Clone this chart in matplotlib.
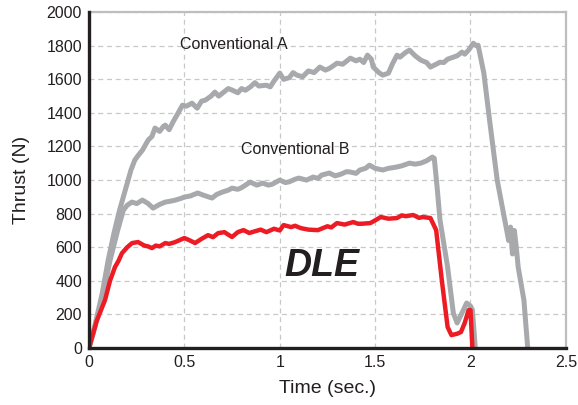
import matplotlib
matplotlib.use("Agg")
from matplotlib import pyplot as plt

# Conventional A thrust curve
conv_a_t = [0.0, 0.03, 0.07, 0.10, 0.13, 0.16, 0.18, 0.205, 0.22, 0.24,
            0.26, 0.28, 0.31, 0.33, 0.346, 0.37, 0.39, 0.40, 0.42, 0.44,
            0.467, 0.49, 0.51, 0.54, 0.567, 0.59, 0.61, 0.64, 0.66, 0.68,
            0.70, 0.73, 0.75, 0.78, 0.80, 0.82, 0.845, 0.87, 0.89, 0.93,
            0.95, 0.97, 1.0, 1.02, 1.05, 1.07, 1.09, 1.12, 1.15, 1.18,
            1.21, 1.24, 1.26, 1.28, 1.30, 1.33, 1.37, 1.40, 1.42, 1.44,
            1.46, 1.48, 1.49, 1.52, 1.54, 1.57, 1.59, 1.615, 1.63, 1.66,
            1.68, 1.71, 1.74, 1.77, 1.79, 1.82, 1.84, 1.86, 1.88, 1.91,
            1.93, 1.955, 1.97, 1.99, 2.015, 2.03, 2.04, 2.07, 2.10, 2.14,
            2.16, 2.18, 2.19, 2.20, 2.21, 2.22, 2.23, 2.24, 2.25, 2.28, 2.30]
conv_a_f = [0, 130, 330, 520, 680, 820, 900, 1000, 1060, 1119,
            1150, 1178, 1238, 1260, 1310, 1290, 1320, 1327, 1300, 1345,
            1399, 1446, 1440, 1458, 1428, 1470, 1476, 1500, 1524, 1500,
            1518, 1545, 1536, 1520, 1545, 1535, 1554, 1580, 1560, 1565,
            1555, 1590, 1637, 1600, 1610, 1640, 1625, 1615, 1650, 1640,
            1673, 1655, 1665, 1680, 1696, 1690, 1726, 1710, 1720, 1700,
            1744, 1720, 1673, 1640, 1625, 1637, 1690, 1744, 1732, 1760,
            1774, 1740, 1714, 1700, 1673, 1690, 1702, 1700, 1720, 1732,
            1740, 1762, 1750, 1774, 1815, 1800, 1803, 1637, 1357, 1000,
            880, 760, 700, 640, 720, 560, 700, 600, 482, 286, 0]

# Conventional B thrust curve
conv_b_t = [0.0, 0.03, 0.07, 0.11, 0.15, 0.18, 0.20, 0.225, 0.25, 0.28,
            0.31, 0.336, 0.37, 0.40, 0.43, 0.45, 0.48, 0.50, 0.53, 0.57,
            0.60, 0.645, 0.67, 0.70, 0.73, 0.75, 0.78, 0.80, 0.845, 0.88,
            0.91, 0.94, 0.96, 1.0, 1.03, 1.05, 1.08, 1.1, 1.14, 1.175,
            1.2, 1.22, 1.26, 1.29, 1.32, 1.35, 1.37, 1.40, 1.42, 1.45,
            1.47, 1.50, 1.54, 1.57, 1.61, 1.64, 1.68, 1.71, 1.74, 1.77,
            1.80, 1.81, 1.825, 1.84, 1.88, 1.91, 1.93, 1.955, 1.98, 2.0,
            2.01, 2.025]
conv_b_f = [0, 120, 300, 520, 700, 821, 850, 869, 860, 881,
            860, 833, 855, 869, 875, 880, 890, 899, 905, 923,
            910, 893, 915, 929, 940, 952, 945, 955, 988, 970,
            982, 970, 975, 1000, 985, 990, 1005, 1012, 1000, 1018,
            1010, 1030, 1042, 1025, 1035, 1050, 1048, 1040, 1060, 1070,
            1089, 1070, 1060, 1070, 1077, 1085, 1101, 1095, 1101, 1115,
            1137, 1130, 958, 762, 482, 208, 149, 208, 268, 250,
            226, 0]

# DLE thrust curve
dle_t = [0.0, 0.04, 0.084, 0.11, 0.136, 0.155, 0.173, 0.2, 0.226, 0.257,
         0.29, 0.31, 0.33, 0.35, 0.37, 0.40, 0.42, 0.45, 0.47, 0.50,
         0.53, 0.556, 0.59, 0.624, 0.65, 0.677, 0.71, 0.73, 0.75, 0.78,
         0.81, 0.84, 0.87, 0.90, 0.93, 0.97, 1.0, 1.02, 1.06, 1.08, 1.11,
         1.15, 1.2, 1.25, 1.27, 1.30, 1.34, 1.385, 1.41, 1.43, 1.475, 1.50,
         1.53, 1.57, 1.615, 1.64, 1.66, 1.70, 1.73, 1.75, 1.79, 1.82,
         1.85, 1.88, 1.90, 1.93, 1.95, 1.97, 1.99, 2.0, 2.01]
dle_f = [0, 160, 286, 400, 482, 520, 565, 600, 625, 631,
         610, 605, 595, 610, 605, 625, 620, 630, 640, 655,
         640, 625, 650, 672, 660, 684, 690, 675, 661, 690,
         702, 685, 695, 705, 690, 710, 700, 732, 720, 728, 714,
         705, 702, 725, 718, 744, 735, 750, 740, 740, 744, 760,
         780, 770, 774, 790, 785, 792, 775, 780, 774, 702,
         400, 125, 77, 85, 95, 150, 226, 226, 0]

x_ticks = [0, 0.5, 1, 1.5, 2, 2.5]
x_tick_labels = ["0", "0.5", "1", "1.5", "2", "2.5"]
y_ticks = list(range(0, 2001, 200))

GRAY = "#a7a9ac"
RED = "#ed1c24"

plt.rcParams["font.family"] = ["Liberation Sans", "DejaVu Sans"]

fig = plt.figure(figsize=(5.78, 4.05), dpi=100)
ax = fig.add_axes([0.154, 0.1407, 0.825, 0.8293])

ax.plot(conv_b_t, conv_b_f, color=GRAY, lw=3.6, solid_joinstyle="round",
        solid_capstyle="round", zorder=3)
ax.plot(conv_a_t, conv_a_f, color=GRAY, lw=3.6, solid_joinstyle="round",
        solid_capstyle="round", zorder=3)
ax.plot(dle_t, dle_f, color=RED, lw=3.2, solid_joinstyle="round",
        solid_capstyle="round", zorder=4)

ax.set_xlim(0, 2.5)
ax.set_ylim(0, 2000)
ax.set_xticks(x_ticks)
ax.set_xticklabels(x_tick_labels)
ax.set_yticks(y_ticks)
ax.tick_params(labelsize=11.5, length=0, pad=5, colors="#231f20")

ax.grid(True, color="#c8c8c8", ls=(0, (4, 3)), lw=0.9)
ax.set_axisbelow(True)

for side in ("left", "bottom"):
    ax.spines[side].set_color("#231f20")
    ax.spines[side].set_linewidth(2.4)
    ax.spines[side].set_zorder(5)
for side in ("top", "right"):
    ax.spines[side].set_color("#bcbec0")
    ax.spines[side].set_linewidth(1.6)

ax.set_xlabel("Time (sec.)", fontsize=14, color="#231f20", labelpad=7)
ax.set_ylabel("Thrust (N)", fontsize=14, color="#231f20", labelpad=12)

ax.text(0.76, 1810, "Conventional A", fontsize=11.5, color="#231f20",
        ha="center", va="center")
ax.text(1.08, 1180, "Conventional B", fontsize=11.5, color="#231f20",
        ha="center", va="center")
ax.text(1.22, 490, "DLE", fontsize=27, fontweight="bold", fontstyle="italic",
        color="#231f20", ha="center", va="center")

fig.savefig("out.png", dpi=100)
